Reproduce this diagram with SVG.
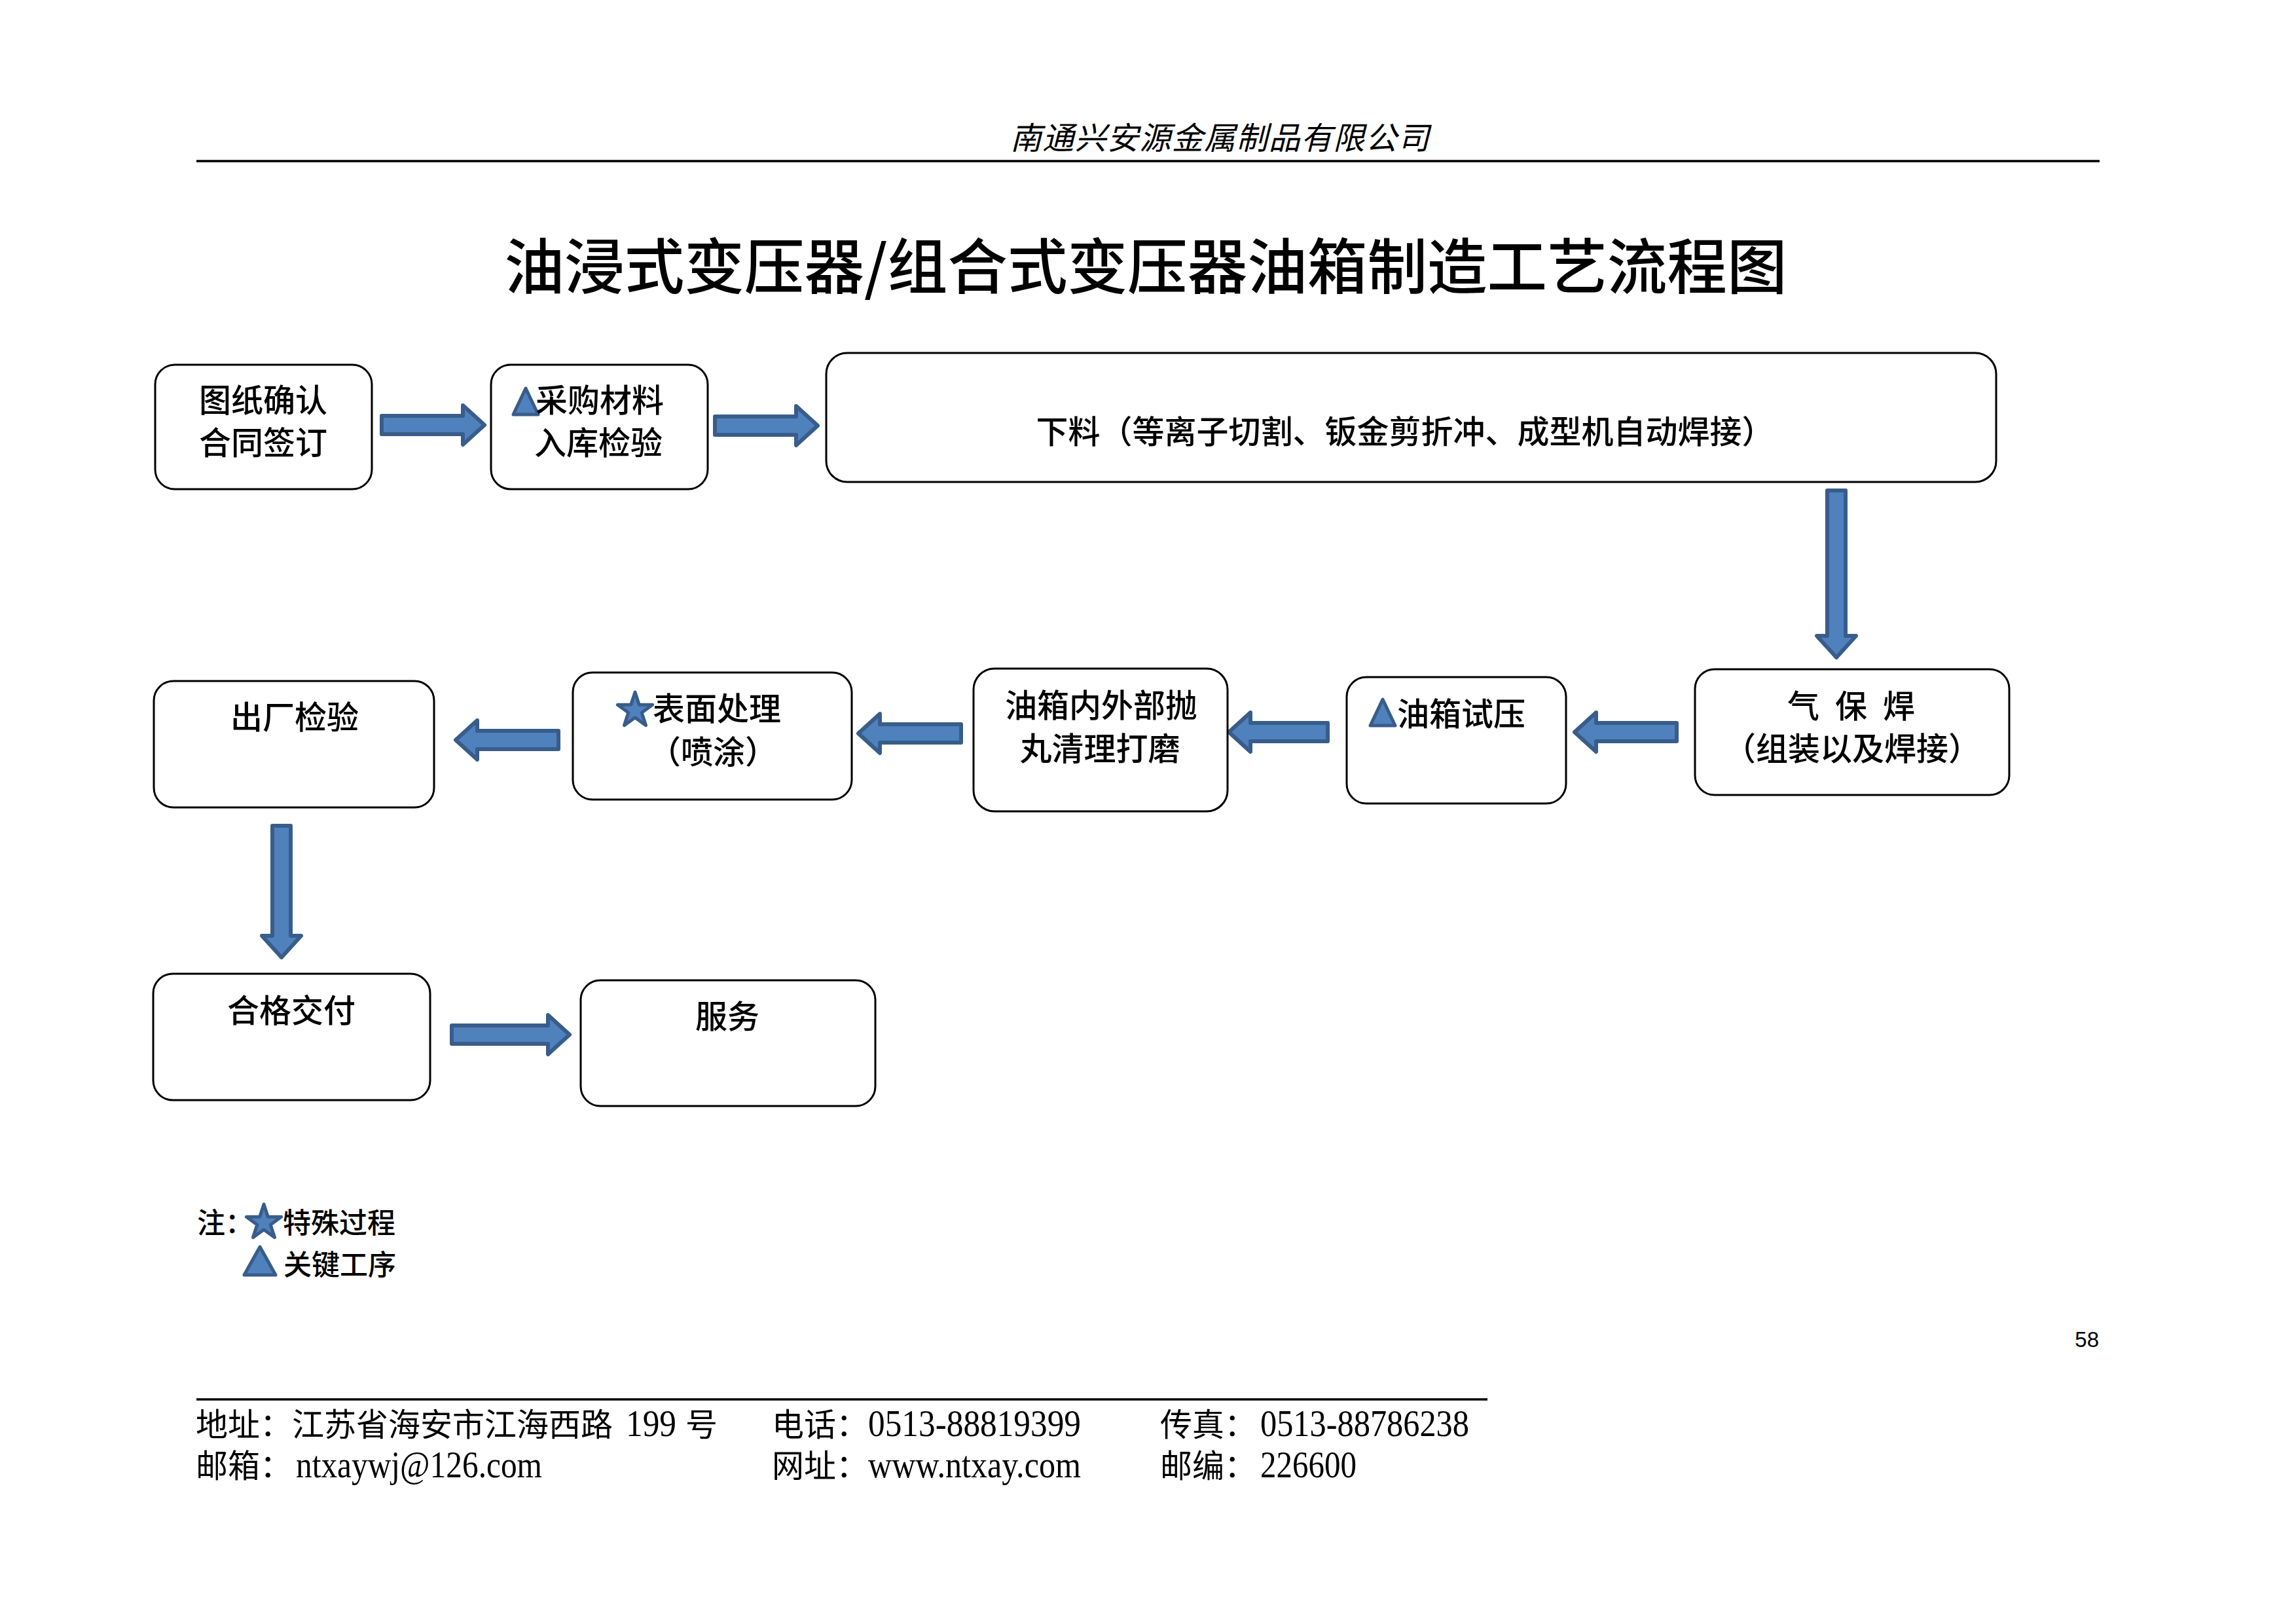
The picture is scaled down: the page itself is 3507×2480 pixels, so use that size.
<svg xmlns="http://www.w3.org/2000/svg" width="3507" height="2480" viewBox="0 0 3507 2480">
<defs>
<style>
.bg{fill:#ffffff}
.box{fill:#ffffff;stroke:#000000;stroke-width:3}
.arr{fill:#4F81BD;stroke:#385D8A;stroke-width:6;stroke-linejoin:round}
.mark{fill:#4F81BD;stroke:#385D8A;stroke-width:5;stroke-linejoin:round}
.t{font-family:"Noto Sans CJK SC","Liberation Sans",sans-serif;font-size:49px;font-weight:500;fill:#000000}
.c{text-anchor:middle}
.lg{font-family:"Noto Sans CJK SC","Liberation Sans",sans-serif;font-size:43px;font-weight:500;fill:#000000}
.ft{font-family:"Noto Sans CJK SC","Liberation Serif",serif;font-size:49px;fill:#000000}
.m{font-family:"Liberation Serif",serif;font-size:58px}
.rule{stroke:#000000;stroke-width:3.5}
</style>
<path id="star" d="M0,-28 L6.29,-8.65 L26.6,-8.65 L10.17,3.3 L16.5,22.65 L0,10.7 L-16.5,22.65 L-10.17,3.3 L-26.6,-8.65 L-6.29,-8.65 Z"/>
<path id="tri" d="M0,-20 L19,20 L-19,20 Z"/>
</defs>
<rect class="bg" x="0" y="0" width="3507" height="2480"/>

<g id="header">
<text x="1863" y="228" text-anchor="middle" font-family="Noto Sans CJK SC, sans-serif" font-size="48" font-style="italic" textLength="640">南通兴安源金属制品有限公司</text>
<line class="rule" x1="300" y1="246" x2="3207" y2="246"/>
</g>

<g id="title">
<text x="1750" y="441" text-anchor="middle" font-family="Noto Sans CJK SC, sans-serif" font-size="92" font-weight="500" textLength="1959" lengthAdjust="spacingAndGlyphs">油浸式变压器/组合式变压器油箱制造工艺流程图</text>
</g>

<g id="connectors">
<path class="arr" d="M583,635 H707 V619 L740,649 L707,679 V663 H583 Z"/>
<path class="arr" d="M1092,636 H1216 V620 L1249,650 L1216,680 V664 H1092 Z"/>
<path class="arr" d="M2791,749 V971 H2775 L2805,1004 L2835,971 H2819 V749 Z"/>
<path class="arr" d="M2561,1104 H2438 V1088 L2405,1118 L2438,1148 V1132 H2561 Z"/>
<path class="arr" d="M2028,1104 H1910 V1088 L1877,1118 L1910,1148 V1132 H2028 Z"/>
<path class="arr" d="M1468,1106 H1344 V1090 L1311,1120 L1344,1150 V1134 H1468 Z"/>
<path class="arr" d="M853,1116 H729 V1100 L696,1130 L729,1160 V1144 H853 Z"/>
<path class="arr" d="M416,1261 V1429 H400 L430,1462 L460,1429 H444 V1261 Z"/>
<path class="arr" d="M690,1566 H837 V1550 L870,1580 L837,1610 V1594 H690 Z"/>
</g>

<g id="n1">
<rect class="box" x="237" y="557" width="331" height="190" rx="30"/>
<text class="t c" x="402" y="629">图纸确认</text>
<text class="t c" x="402" y="694">合同签订</text>
</g>

<g id="n2">
<rect class="box" x="750" y="557" width="331" height="190" rx="30"/>
<use href="#tri" class="mark" x="803" y="613"/>
<text class="t" x="818" y="629">采购材料</text>
<text class="t c" x="914" y="694">入库检验</text>
</g>

<g id="n3">
<rect class="box" x="1262" y="539" width="1787" height="197" rx="32"/>
<text class="t c" x="2146" y="677">下料（等离子切割、钣金剪折冲、成型机自动焊接）</text>
</g>

<g id="n4">
<rect class="box" x="2589" y="1022" width="480" height="192" rx="30"/>
<text class="t" y="1096"><tspan x="2730">气</tspan><tspan x="2803">保</tspan><tspan x="2876">焊</tspan></text>
<text class="t c" x="2829" y="1161">（组装以及焊接）</text>
</g>

<g id="n5">
<rect class="box" x="2057" y="1034" width="335" height="193" rx="30"/>
<use href="#tri" class="mark" x="2112" y="1088"/>
<text class="t" x="2134" y="1108">油箱试压</text>
</g>

<g id="n6">
<rect class="box" x="1487" y="1021" width="388" height="218" rx="32"/>
<text class="t c" x="1682" y="1095">油箱内外部抛</text>
<text class="t c" x="1680" y="1161">丸清理打磨</text>
</g>

<g id="n7">
<rect class="box" x="875" y="1027" width="426" height="194" rx="30"/>
<use href="#star" class="mark" x="970" y="1085"/>
<text class="t" x="997" y="1100">表面处理</text>
<text class="t c" x="1089" y="1166">（喷涂）</text>
</g>

<g id="n8">
<rect class="box" x="235" y="1040" width="428" height="193" rx="30"/>
<text class="t c" x="450" y="1113">出厂检验</text>
</g>

<g id="n9">
<rect class="box" x="234" y="1487" width="423" height="193" rx="30"/>
<text class="t c" x="445" y="1561">合格交付</text>
</g>

<g id="n10">
<rect class="box" x="887" y="1497" width="450" height="192" rx="30"/>
<text class="t c" x="1111" y="1570">服务</text>
</g>

<g id="legend">
<text class="lg" x="301" y="1883">注：</text>
<use href="#star" class="mark" x="403" y="1867"/>
<text class="lg" x="432" y="1883">特殊过程</text>
<path class="mark" d="M397,1904 L421,1947 L373,1947 Z"/>
<text class="lg" x="433" y="1947">关键工序</text>
</g>

<g id="pagenum">
<text x="3206" y="2057" text-anchor="end" font-family="Liberation Sans, Arial, sans-serif" font-size="33">58</text>
</g>

<g id="footer">
<line class="rule" x1="300" y1="2137" x2="2272" y2="2137"/>
<text class="ft" y="2193"><tspan x="299">地址：江苏省海安市江海西路</tspan><tspan class="m" x="956" textLength="77" lengthAdjust="spacingAndGlyphs">199</tspan><tspan x="1047">号</tspan></text>
<text class="ft" y="2193"><tspan x="1179">电话：</tspan><tspan class="m" x="1326" textLength="325" lengthAdjust="spacingAndGlyphs">0513-88819399</tspan></text>
<text class="ft" y="2193"><tspan x="1772">传真：</tspan><tspan class="m" x="1925" textLength="319" lengthAdjust="spacingAndGlyphs">0513-88786238</tspan></text>
<text class="ft" y="2256"><tspan x="299">邮箱：</tspan><tspan class="m" x="452" textLength="376" lengthAdjust="spacingAndGlyphs">ntxaywj@126.com</tspan></text>
<text class="ft" y="2256"><tspan x="1179">网址：</tspan><tspan class="m" x="1326" textLength="325" lengthAdjust="spacingAndGlyphs">www.ntxay.com</tspan></text>
<text class="ft" y="2256"><tspan x="1772">邮编：</tspan><tspan class="m" x="1925" textLength="147" lengthAdjust="spacingAndGlyphs">226600</tspan></text>
</g>
</svg>
